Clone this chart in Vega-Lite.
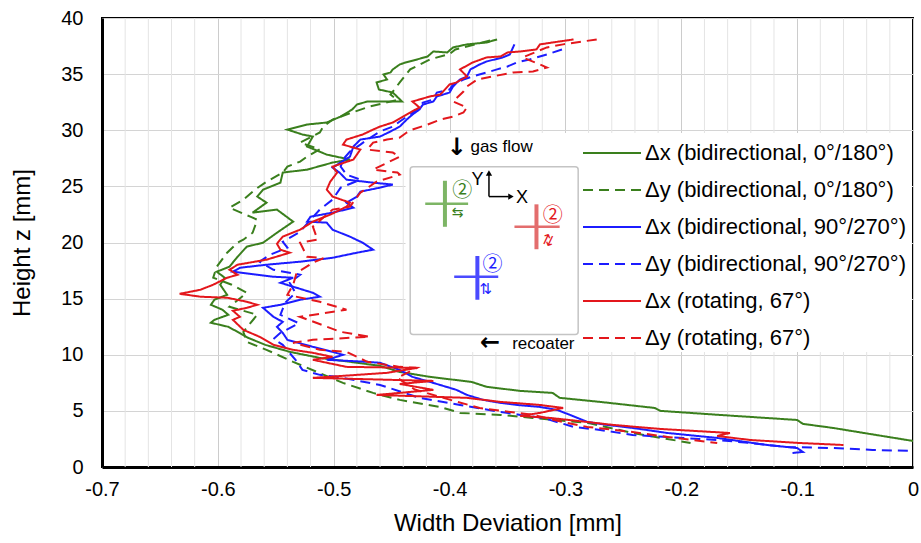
{
"$schema": "https://vega.github.io/schema/vega-lite/v6.json",
"width": 811, "height": 449,
"autosize": "none",
"padding": {"left": 102, "top": 18, "right": 8, "bottom": 76},
"config": {
  "font": "Liberation Sans",
  "view": {"stroke": "black", "strokeWidth": 2},
  "axis": {"labelColor": "black", "titleColor": "black", "titleFontWeight": "normal", "ticks": false, "tickSize": 0, "domainColor": "black", "domainWidth": 3, "labelFontSize": 20, "titleFontSize": 24, "labelFlush": false, "labelOverlap": false}
},
"datasets": {
"lines": [
{"s":"A","i":1,"z":38.09,"x":-0.359},{"s":"A","i":2,"z":37.82,"x":-0.368},{"s":"A","i":3,"z":37.65,"x":-0.385},{"s":"A","i":4,"z":37.38,"x":-0.397},{"s":"A","i":5,"z":36.93,"x":-0.402},{"s":"A","i":6,"z":37.02,"x":-0.414},{"s":"A","i":7,"z":36.57,"x":-0.419},{"s":"A","i":8,"z":36.31,"x":-0.428},{"s":"A","i":9,"z":36.04,"x":-0.438},{"s":"A","i":10,"z":35.86,"x":-0.443},{"s":"A","i":11,"z":35.42,"x":-0.449},{"s":"A","i":12,"z":35.15,"x":-0.451},{"s":"A","i":13,"z":34.97,"x":-0.457},{"s":"A","i":14,"z":34.52,"x":-0.454},{"s":"A","i":15,"z":34.26,"x":-0.463},{"s":"A","i":16,"z":33.63,"x":-0.461},{"s":"A","i":17,"z":33.36,"x":-0.449},{"s":"A","i":18,"z":32.56,"x":-0.441},{"s":"A","i":19,"z":32.56,"x":-0.471},{"s":"A","i":20,"z":32.29,"x":-0.48},{"s":"A","i":21,"z":31.85,"x":-0.484},{"s":"A","i":22,"z":31.22,"x":-0.494},{"s":"A","i":23,"z":30.69,"x":-0.506},{"s":"A","i":24,"z":30.51,"x":-0.523},{"s":"A","i":25,"z":30.06,"x":-0.54},{"s":"A","i":26,"z":29.62,"x":-0.527},{"s":"A","i":27,"z":29.44,"x":-0.518},{"s":"A","i":28,"z":28.55,"x":-0.523},{"s":"A","i":29,"z":27.83,"x":-0.506},{"s":"A","i":30,"z":27.39,"x":-0.486},{"s":"A","i":31,"z":27.12,"x":-0.501},{"s":"A","i":32,"z":26.49,"x":-0.523},{"s":"A","i":33,"z":26.23,"x":-0.544},{"s":"A","i":34,"z":25.33,"x":-0.546},{"s":"A","i":35,"z":24.71,"x":-0.561},{"s":"A","i":36,"z":24.09,"x":-0.566},{"s":"A","i":37,"z":23.55,"x":-0.558},{"s":"A","i":38,"z":22.66,"x":-0.57},{"s":"A","i":39,"z":22.93,"x":-0.549},{"s":"A","i":40,"z":21.86,"x":-0.535},{"s":"A","i":41,"z":20.87,"x":-0.549},{"s":"A","i":42,"z":19.98,"x":-0.561},{"s":"A","i":43,"z":19.63,"x":-0.575},{"s":"A","i":44,"z":18.73,"x":-0.583},{"s":"A","i":45,"z":17.84,"x":-0.59},{"s":"A","i":46,"z":17.4,"x":-0.601},{"s":"A","i":47,"z":16.86,"x":-0.594},{"s":"A","i":48,"z":16.24,"x":-0.598},{"s":"A","i":49,"z":15.34,"x":-0.592},{"s":"A","i":50,"z":14.9,"x":-0.603},{"s":"A","i":51,"z":14.45,"x":-0.606},{"s":"A","i":52,"z":14.01,"x":-0.596},{"s":"A","i":53,"z":13.56,"x":-0.591},{"s":"A","i":54,"z":13.11,"x":-0.603},{"s":"A","i":55,"z":12.85,"x":-0.606},{"s":"A","i":56,"z":12.49,"x":-0.591},{"s":"A","i":57,"z":12.04,"x":-0.583},{"s":"A","i":58,"z":11.51,"x":-0.574},{"s":"A","i":59,"z":10.88,"x":-0.559},{"s":"A","i":60,"z":10.26,"x":-0.538},{"s":"A","i":61,"z":9.72,"x":-0.512},{"s":"A","i":62,"z":9.37,"x":-0.486},{"s":"A","i":63,"z":9.01,"x":-0.46},{"s":"A","i":64,"z":8.47,"x":-0.443},{"s":"A","i":65,"z":8.03,"x":-0.417},{"s":"A","i":66,"z":7.58,"x":-0.381},{"s":"A","i":67,"z":7.14,"x":-0.368},{"s":"A","i":68,"z":6.78,"x":-0.339},{"s":"A","i":69,"z":6.6,"x":-0.311},{"s":"A","i":70,"z":6.16,"x":-0.305},{"s":"A","i":71,"z":5.8,"x":-0.27},{"s":"A","i":72,"z":5.26,"x":-0.223},{"s":"A","i":73,"z":5.0,"x":-0.218},{"s":"A","i":74,"z":4.64,"x":-0.167},{"s":"A","i":75,"z":4.19,"x":-0.1},{"s":"A","i":76,"z":3.84,"x":-0.095},{"s":"A","i":77,"z":3.48,"x":-0.069},{"s":"A","i":78,"z":2.94,"x":-0.037},{"s":"A","i":79,"z":2.32,"x":0},
{"s":"B","i":1,"z":38.0,"x":-0.365},{"s":"B","i":2,"z":37.2,"x":-0.395},{"s":"B","i":3,"z":36.8,"x":-0.4},{"s":"B","i":4,"z":36.31,"x":-0.417},{"s":"B","i":5,"z":35.42,"x":-0.434},{"s":"B","i":6,"z":34.26,"x":-0.443},{"s":"B","i":7,"z":33.18,"x":-0.451},{"s":"B","i":8,"z":32.7,"x":-0.445},{"s":"B","i":9,"z":32.11,"x":-0.469},{"s":"B","i":10,"z":31.4,"x":-0.489},{"s":"B","i":11,"z":30.95,"x":-0.501},{"s":"B","i":12,"z":30.33,"x":-0.509},{"s":"B","i":13,"z":29.8,"x":-0.512},{"s":"B","i":14,"z":28.9,"x":-0.529},{"s":"B","i":15,"z":28.3,"x":-0.512},{"s":"B","i":16,"z":27.65,"x":-0.523},{"s":"B","i":17,"z":27.21,"x":-0.529},{"s":"B","i":18,"z":26.76,"x":-0.54},{"s":"B","i":19,"z":26.23,"x":-0.544},{"s":"B","i":20,"z":25.42,"x":-0.558},{"s":"B","i":21,"z":24.71,"x":-0.568},{"s":"B","i":22,"z":23.82,"x":-0.578},{"s":"B","i":23,"z":23.1,"x":-0.59},{"s":"B","i":24,"z":22.3,"x":-0.572},{"s":"B","i":25,"z":22.03,"x":-0.566},{"s":"B","i":26,"z":20.87,"x":-0.57},{"s":"B","i":27,"z":20.25,"x":-0.578},{"s":"B","i":28,"z":19.98,"x":-0.583},{"s":"B","i":29,"z":19.09,"x":-0.592},{"s":"B","i":30,"z":17.84,"x":-0.601},{"s":"B","i":31,"z":16.86,"x":-0.604},{"s":"B","i":32,"z":16.24,"x":-0.588},{"s":"B","i":33,"z":15.52,"x":-0.575},{"s":"B","i":34,"z":14.27,"x":-0.59},{"s":"B","i":35,"z":13.56,"x":-0.566},{"s":"B","i":36,"z":12.04,"x":-0.578},{"s":"B","i":37,"z":11.15,"x":-0.575},{"s":"B","i":38,"z":10.44,"x":-0.558},{"s":"B","i":39,"z":9.37,"x":-0.535},{"s":"B","i":40,"z":7.49,"x":-0.492},{"s":"B","i":41,"z":6.6,"x":-0.466},{"s":"B","i":42,"z":5.98,"x":-0.443},{"s":"B","i":43,"z":5.35,"x":-0.408},{"s":"B","i":44,"z":4.82,"x":-0.391},{"s":"B","i":45,"z":4.64,"x":-0.356},{"s":"B","i":46,"z":4.37,"x":-0.328},{"s":"B","i":47,"z":3.93,"x":-0.281},{"s":"B","i":48,"z":3.03,"x":-0.242},{"s":"B","i":49,"z":2.14,"x":-0.192},
{"s":"C","i":1,"z":37.65,"x":-0.344},{"s":"C","i":2,"z":36.75,"x":-0.348},{"s":"C","i":3,"z":36.49,"x":-0.354},{"s":"C","i":4,"z":36.13,"x":-0.368},{"s":"C","i":5,"z":35.86,"x":-0.374},{"s":"C","i":6,"z":35.42,"x":-0.382},{"s":"C","i":7,"z":34.79,"x":-0.385},{"s":"C","i":8,"z":34.52,"x":-0.391},{"s":"C","i":9,"z":33.9,"x":-0.397},{"s":"C","i":10,"z":33.36,"x":-0.4},{"s":"C","i":11,"z":33.01,"x":-0.411},{"s":"C","i":12,"z":32.56,"x":-0.414},{"s":"C","i":13,"z":32.29,"x":-0.423},{"s":"C","i":14,"z":31.85,"x":-0.426},{"s":"C","i":15,"z":31.4,"x":-0.432},{"s":"C","i":16,"z":30.95,"x":-0.437},{"s":"C","i":17,"z":30.33,"x":-0.443},{"s":"C","i":18,"z":29.89,"x":-0.451},{"s":"C","i":19,"z":29.44,"x":-0.46},{"s":"C","i":20,"z":29.17,"x":-0.477},{"s":"C","i":21,"z":28.55,"x":-0.483},{"s":"C","i":22,"z":27.65,"x":-0.486},{"s":"C","i":23,"z":26.67,"x":-0.501},{"s":"C","i":24,"z":26.23,"x":-0.495},{"s":"C","i":25,"z":25.6,"x":-0.489},{"s":"C","i":26,"z":25.33,"x":-0.466},{"s":"C","i":27,"z":25.16,"x":-0.449},{"s":"C","i":28,"z":24.89,"x":-0.46},{"s":"C","i":29,"z":24.53,"x":-0.477},{"s":"C","i":30,"z":24.09,"x":-0.48},{"s":"C","i":31,"z":23.55,"x":-0.489},{"s":"C","i":32,"z":23.1,"x":-0.483},{"s":"C","i":33,"z":22.66,"x":-0.501},{"s":"C","i":34,"z":22.3,"x":-0.52},{"s":"C","i":35,"z":21.86,"x":-0.523},{"s":"C","i":36,"z":21.77,"x":-0.506},{"s":"C","i":37,"z":21.14,"x":-0.501},{"s":"C","i":38,"z":20.52,"x":-0.486},{"s":"C","i":39,"z":19.98,"x":-0.475},{"s":"C","i":40,"z":19.36,"x":-0.466},{"s":"C","i":41,"z":19.09,"x":-0.48},{"s":"C","i":42,"z":18.64,"x":-0.501},{"s":"C","i":43,"z":18.29,"x":-0.529},{"s":"C","i":44,"z":18.02,"x":-0.558},{"s":"C","i":45,"z":17.75,"x":-0.581},{"s":"C","i":46,"z":17.4,"x":-0.587},{"s":"C","i":47,"z":16.95,"x":-0.552},{"s":"C","i":48,"z":16.86,"x":-0.535},{"s":"C","i":49,"z":16.41,"x":-0.546},{"s":"C","i":50,"z":16.06,"x":-0.535},{"s":"C","i":51,"z":15.52,"x":-0.518},{"s":"C","i":52,"z":15.17,"x":-0.512},{"s":"C","i":53,"z":14.9,"x":-0.529},{"s":"C","i":54,"z":14.45,"x":-0.546},{"s":"C","i":55,"z":14.18,"x":-0.561},{"s":"C","i":56,"z":13.38,"x":-0.552},{"s":"C","i":57,"z":12.93,"x":-0.544},{"s":"C","i":58,"z":12.49,"x":-0.549},{"s":"C","i":59,"z":11.95,"x":-0.544},{"s":"C","i":60,"z":11.33,"x":-0.54},{"s":"C","i":61,"z":10.7,"x":-0.518},{"s":"C","i":62,"z":10.26,"x":-0.501},{"s":"C","i":63,"z":9.99,"x":-0.492},{"s":"C","i":64,"z":9.55,"x":-0.506},{"s":"C","i":65,"z":9.37,"x":-0.471},{"s":"C","i":66,"z":9.28,"x":-0.46},{"s":"C","i":67,"z":8.65,"x":-0.443},{"s":"C","i":68,"z":8.03,"x":-0.432},{"s":"C","i":69,"z":7.49,"x":-0.414},{"s":"C","i":70,"z":6.87,"x":-0.394},{"s":"C","i":71,"z":6.42,"x":-0.385},{"s":"C","i":72,"z":5.98,"x":-0.371},{"s":"C","i":73,"z":5.71,"x":-0.356},{"s":"C","i":74,"z":5.53,"x":-0.342},{"s":"C","i":75,"z":5.35,"x":-0.322},{"s":"C","i":76,"z":5.08,"x":-0.307},{"s":"C","i":77,"z":4.64,"x":-0.296},{"s":"C","i":78,"z":4.01,"x":-0.281},{"s":"C","i":79,"z":3.75,"x":-0.264},{"s":"C","i":80,"z":3.48,"x":-0.242},{"s":"C","i":81,"z":3.03,"x":-0.212},{"s":"C","i":82,"z":2.59,"x":-0.169},{"s":"C","i":83,"z":1.96,"x":-0.126},{"s":"C","i":84,"z":1.69,"x":-0.1},{"s":"C","i":85,"z":1.34,"x":-0.095},{"s":"C","i":86,"z":1.25,"x":-0.104},
{"s":"D","i":1,"z":37.2,"x":-0.303},{"s":"D","i":2,"z":36.75,"x":-0.316},{"s":"D","i":3,"z":36.31,"x":-0.331},{"s":"D","i":4,"z":36.04,"x":-0.342},{"s":"D","i":5,"z":35.68,"x":-0.35},{"s":"D","i":6,"z":35.42,"x":-0.359},{"s":"D","i":7,"z":34.79,"x":-0.38},{"s":"D","i":8,"z":34.52,"x":-0.388},{"s":"D","i":9,"z":34.08,"x":-0.397},{"s":"D","i":10,"z":33.63,"x":-0.4},{"s":"D","i":11,"z":33.36,"x":-0.411},{"s":"D","i":12,"z":32.74,"x":-0.414},{"s":"D","i":13,"z":32.47,"x":-0.423},{"s":"D","i":14,"z":31.85,"x":-0.428},{"s":"D","i":15,"z":31.4,"x":-0.434},{"s":"D","i":16,"z":30.78,"x":-0.443},{"s":"D","i":17,"z":30.33,"x":-0.449},{"s":"D","i":18,"z":29.89,"x":-0.46},{"s":"D","i":19,"z":29.17,"x":-0.471},{"s":"D","i":20,"z":28.72,"x":-0.477},{"s":"D","i":21,"z":28.1,"x":-0.486},{"s":"D","i":22,"z":27.39,"x":-0.492},{"s":"D","i":23,"z":26.76,"x":-0.494},{"s":"D","i":24,"z":26.05,"x":-0.489},{"s":"D","i":25,"z":25.6,"x":-0.477},{"s":"D","i":26,"z":24.89,"x":-0.494},{"s":"D","i":27,"z":23.82,"x":-0.501},{"s":"D","i":28,"z":22.93,"x":-0.512},{"s":"D","i":29,"z":22.03,"x":-0.52},{"s":"D","i":30,"z":20.96,"x":-0.529},{"s":"D","i":31,"z":20.07,"x":-0.544},{"s":"D","i":32,"z":19.54,"x":-0.54},{"s":"D","i":33,"z":18.91,"x":-0.555},{"s":"D","i":34,"z":18.29,"x":-0.564},{"s":"D","i":35,"z":17.57,"x":-0.552},{"s":"D","i":36,"z":17.13,"x":-0.529},{"s":"D","i":37,"z":16.41,"x":-0.538},{"s":"D","i":38,"z":15.52,"x":-0.533},{"s":"D","i":39,"z":14.63,"x":-0.542},{"s":"D","i":40,"z":13.56,"x":-0.546},{"s":"D","i":41,"z":12.8,"x":-0.53},{"s":"D","i":42,"z":11.95,"x":-0.546},{"s":"D","i":43,"z":11.4,"x":-0.552},{"s":"D","i":44,"z":10.88,"x":-0.544},{"s":"D","i":45,"z":9.55,"x":-0.533},{"s":"D","i":46,"z":8.65,"x":-0.527},{"s":"D","i":47,"z":8.21,"x":-0.512},{"s":"D","i":48,"z":8.03,"x":-0.497},{"s":"D","i":49,"z":7.31,"x":-0.46},{"s":"D","i":50,"z":6.16,"x":-0.426},{"s":"D","i":51,"z":5.53,"x":-0.391},{"s":"D","i":52,"z":4.91,"x":-0.356},{"s":"D","i":53,"z":4.64,"x":-0.339},{"s":"D","i":54,"z":4.37,"x":-0.319},{"s":"D","i":55,"z":3.57,"x":-0.293},{"s":"D","i":56,"z":3.3,"x":-0.27},{"s":"D","i":57,"z":2.85,"x":-0.242},{"s":"D","i":58,"z":2.41,"x":-0.169},{"s":"D","i":59,"z":2.14,"x":-0.141},{"s":"D","i":60,"z":1.78,"x":-0.109},{"s":"D","i":61,"z":1.69,"x":-0.069},{"s":"D","i":62,"z":1.52,"x":-0.035},{"s":"D","i":63,"z":1.43,"x":0},
{"s":"E","i":1,"z":38.09,"x":-0.293},{"s":"E","i":2,"z":37.82,"x":-0.311},{"s":"E","i":3,"z":37.65,"x":-0.322},{"s":"E","i":4,"z":37.2,"x":-0.325},{"s":"E","i":5,"z":37.02,"x":-0.339},{"s":"E","i":6,"z":36.93,"x":-0.35},{"s":"E","i":7,"z":36.57,"x":-0.356},{"s":"E","i":8,"z":36.49,"x":-0.368},{"s":"E","i":9,"z":36.04,"x":-0.38},{"s":"E","i":10,"z":35.42,"x":-0.391},{"s":"E","i":11,"z":34.79,"x":-0.385},{"s":"E","i":12,"z":34.26,"x":-0.394},{"s":"E","i":13,"z":34.08,"x":-0.4},{"s":"E","i":14,"z":33.18,"x":-0.408},{"s":"E","i":15,"z":33.01,"x":-0.417},{"s":"E","i":16,"z":32.56,"x":-0.432},{"s":"E","i":17,"z":32.03,"x":-0.426},{"s":"E","i":18,"z":31.58,"x":-0.434},{"s":"E","i":19,"z":30.69,"x":-0.449},{"s":"E","i":20,"z":30.33,"x":-0.46},{"s":"E","i":21,"z":30.06,"x":-0.466},{"s":"E","i":22,"z":29.62,"x":-0.475},{"s":"E","i":23,"z":29.17,"x":-0.489},{"s":"E","i":24,"z":28.72,"x":-0.492},{"s":"E","i":25,"z":28.28,"x":-0.477},{"s":"E","i":26,"z":27.39,"x":-0.483},{"s":"E","i":27,"z":26.76,"x":-0.501},{"s":"E","i":28,"z":26.23,"x":-0.497},{"s":"E","i":29,"z":25.42,"x":-0.503},{"s":"E","i":30,"z":24.71,"x":-0.506},{"s":"E","i":31,"z":24.09,"x":-0.501},{"s":"E","i":32,"z":23.55,"x":-0.486},{"s":"E","i":33,"z":23.19,"x":-0.489},{"s":"E","i":34,"z":22.48,"x":-0.503},{"s":"E","i":35,"z":21.86,"x":-0.518},{"s":"E","i":36,"z":21.14,"x":-0.529},{"s":"E","i":37,"z":20.52,"x":-0.544},{"s":"E","i":38,"z":19.89,"x":-0.549},{"s":"E","i":39,"z":19.36,"x":-0.546},{"s":"E","i":40,"z":19.09,"x":-0.538},{"s":"E","i":41,"z":18.47,"x":-0.558},{"s":"E","i":42,"z":18.02,"x":-0.583},{"s":"E","i":43,"z":17.57,"x":-0.59},{"s":"E","i":44,"z":17.13,"x":-0.583},{"s":"E","i":45,"z":16.86,"x":-0.592},{"s":"E","i":46,"z":16.24,"x":-0.604},{"s":"E","i":47,"z":15.79,"x":-0.615},{"s":"E","i":48,"z":15.43,"x":-0.633},{"s":"E","i":49,"z":15.17,"x":-0.615},{"s":"E","i":50,"z":15.08,"x":-0.592},{"s":"E","i":51,"z":14.72,"x":-0.575},{"s":"E","i":52,"z":14.45,"x":-0.566},{"s":"E","i":53,"z":14.18,"x":-0.575},{"s":"E","i":54,"z":13.92,"x":-0.587},{"s":"E","i":55,"z":13.38,"x":-0.581},{"s":"E","i":56,"z":13.11,"x":-0.587},{"s":"E","i":57,"z":12.22,"x":-0.578},{"s":"E","i":58,"z":11.6,"x":-0.564},{"s":"E","i":59,"z":10.88,"x":-0.552},{"s":"E","i":60,"z":10.44,"x":-0.535},{"s":"E","i":61,"z":10.17,"x":-0.518},{"s":"E","i":62,"z":9.81,"x":-0.501},{"s":"E","i":63,"z":9.55,"x":-0.518},{"s":"E","i":64,"z":8.92,"x":-0.489},{"s":"E","i":65,"z":8.83,"x":-0.428},{"s":"E","i":66,"z":8.39,"x":-0.454},{"s":"E","i":67,"z":7.94,"x":-0.518},{"s":"E","i":68,"z":7.67,"x":-0.414},{"s":"E","i":69,"z":7.4,"x":-0.443},{"s":"E","i":70,"z":6.87,"x":-0.414},{"s":"E","i":71,"z":6.42,"x":-0.463},{"s":"E","i":72,"z":6.16,"x":-0.385},{"s":"E","i":73,"z":5.8,"x":-0.356},{"s":"E","i":74,"z":5.53,"x":-0.322},{"s":"E","i":75,"z":5.26,"x":-0.302},{"s":"E","i":76,"z":4.82,"x":-0.322},{"s":"E","i":77,"z":4.55,"x":-0.339},{"s":"E","i":78,"z":4.37,"x":-0.313},{"s":"E","i":79,"z":4.01,"x":-0.281},{"s":"E","i":80,"z":3.75,"x":-0.259},{"s":"E","i":81,"z":3.39,"x":-0.218},{"s":"E","i":82,"z":3.03,"x":-0.158},{"s":"E","i":83,"z":2.77,"x":-0.169},{"s":"E","i":84,"z":2.41,"x":-0.141},{"s":"E","i":85,"z":2.14,"x":-0.098},{"s":"E","i":86,"z":1.96,"x":-0.06},
{"s":"F","i":1,"z":38.09,"x":-0.273},{"s":"F","i":2,"z":37.91,"x":-0.285},{"s":"F","i":3,"z":37.65,"x":-0.302},{"s":"F","i":4,"z":37.38,"x":-0.316},{"s":"F","i":5,"z":36.49,"x":-0.337},{"s":"F","i":6,"z":35.86,"x":-0.322},{"s":"F","i":7,"z":35.59,"x":-0.316},{"s":"F","i":8,"z":35.24,"x":-0.328},{"s":"F","i":9,"z":35.15,"x":-0.345},{"s":"F","i":10,"z":34.79,"x":-0.363},{"s":"F","i":11,"z":34.52,"x":-0.376},{"s":"F","i":12,"z":33.9,"x":-0.385},{"s":"F","i":13,"z":33.45,"x":-0.388},{"s":"F","i":14,"z":32.56,"x":-0.397},{"s":"F","i":15,"z":32.03,"x":-0.385},{"s":"F","i":16,"z":31.58,"x":-0.388},{"s":"F","i":17,"z":31.22,"x":-0.397},{"s":"F","i":18,"z":30.95,"x":-0.408},{"s":"F","i":19,"z":30.51,"x":-0.419},{"s":"F","i":20,"z":30.06,"x":-0.432},{"s":"F","i":21,"z":29.8,"x":-0.437},{"s":"F","i":22,"z":29.35,"x":-0.443},{"s":"F","i":23,"z":29.17,"x":-0.454},{"s":"F","i":24,"z":28.9,"x":-0.466},{"s":"F","i":25,"z":28.28,"x":-0.471},{"s":"F","i":26,"z":28.01,"x":-0.449},{"s":"F","i":27,"z":27.65,"x":-0.443},{"s":"F","i":28,"z":26.49,"x":-0.466},{"s":"F","i":29,"z":26.23,"x":-0.445},{"s":"F","i":30,"z":26.05,"x":-0.443},{"s":"F","i":31,"z":25.42,"x":-0.463},{"s":"F","i":32,"z":24.44,"x":-0.477},{"s":"F","i":33,"z":23.19,"x":-0.486},{"s":"F","i":34,"z":22.93,"x":-0.501},{"s":"F","i":35,"z":21.41,"x":-0.518},{"s":"F","i":36,"z":20.25,"x":-0.514},{"s":"F","i":37,"z":19.98,"x":-0.529},{"s":"F","i":38,"z":18.73,"x":-0.523},{"s":"F","i":39,"z":18.6,"x":-0.509},{"s":"F","i":40,"z":18.2,"x":-0.518},{"s":"F","i":41,"z":17.31,"x":-0.532},{"s":"F","i":42,"z":16.24,"x":-0.535},{"s":"F","i":43,"z":15.34,"x":-0.54},{"s":"F","i":44,"z":14.72,"x":-0.512},{"s":"F","i":45,"z":14.01,"x":-0.489},{"s":"F","i":46,"z":13.38,"x":-0.529},{"s":"F","i":47,"z":12.04,"x":-0.494},{"s":"F","i":48,"z":11.6,"x":-0.469},{"s":"F","i":49,"z":11.33,"x":-0.518},{"s":"F","i":50,"z":11.06,"x":-0.535},{"s":"F","i":51,"z":10.44,"x":-0.512},{"s":"F","i":52,"z":10.26,"x":-0.489},{"s":"F","i":53,"z":9.37,"x":-0.471},{"s":"F","i":54,"z":8.92,"x":-0.443},{"s":"F","i":55,"z":8.83,"x":-0.428},{"s":"F","i":56,"z":7.94,"x":-0.445},{"s":"F","i":57,"z":6.9,"x":-0.43},{"s":"F","i":58,"z":6.0,"x":-0.4},{"s":"F","i":59,"z":5.26,"x":-0.374},{"s":"F","i":60,"z":4.64,"x":-0.328},{"s":"F","i":61,"z":4.01,"x":-0.302},{"s":"F","i":62,"z":3.57,"x":-0.281},{"s":"F","i":63,"z":3.12,"x":-0.242},{"s":"F","i":64,"z":2.68,"x":-0.212},{"s":"F","i":65,"z":2.14,"x":-0.169}
]
},
"layer": [
{
  "data": {"values": [{"x":-0.68},{"x":-0.66},{"x":-0.64},{"x":-0.62},{"x":-0.58},{"x":-0.56},{"x":-0.54},{"x":-0.52},{"x":-0.48},{"x":-0.46},{"x":-0.44},{"x":-0.42},{"x":-0.38},{"x":-0.36},{"x":-0.34},{"x":-0.32},{"x":-0.28},{"x":-0.26},{"x":-0.24},{"x":-0.22},{"x":-0.18},{"x":-0.16},{"x":-0.14},{"x":-0.12},{"x":-0.08},{"x":-0.06},{"x":-0.04},{"x":-0.02}]},
  "mark": {"type": "rule", "color": "#e4e4e4", "strokeWidth": 1},
  "encoding": {
    "x": {"field": "x", "type": "quantitative", "scale": {"domain": [-0.7, 0], "nice": false, "zero": false},
      "axis": {"title": "Width Deviation [mm]", "grid": true, "gridColor": "#cccccc", "labelOverlap": false, "labelFlush": false,
        "values": [-0.7,-0.6,-0.5,-0.4,-0.3,-0.2,-0.1,0],
        "labelExpr": "datum.value == 0 ? '0' : '-' + format(abs(datum.value), '.1f')",
        "labelPadding": 12, "titlePadding": 12}}
  }
},
{
  "data": {"values": [{"x": -0.438, "x2": -0.001, "z": 10.25, "z2": 29.75}]},
  "mark": {"type": "rect", "fill": "white", "strokeWidth": 0},
  "encoding": {
    "x": {"field": "x", "type": "quantitative"},
    "x2": {"field": "x2"},
    "y": {"field": "z", "type": "quantitative", "scale": {"domain": [0, 40], "nice": false, "zero": false},
      "axis": {"title": "Height z [mm]", "grid": true, "gridColor": "#d4d4d4", "labelOverlap": false, "labelFlush": false, "values": [0,5,10,15,20,25,30,35,40], "labelPadding": 19, "titlePadding": 26}},
    "y2": {"field": "z2"}
  }
},
{
  "data": {"name": "lines"},
  "mark": {"type": "line", "strokeWidth": 2},
  "encoding": {
    "x": {"field": "x", "type": "quantitative"},
    "y": {"field": "z", "type": "quantitative"},
    "order": {"field": "i", "type": "quantitative"},
    "color": {"field": "s", "type": "nominal",
      "scale": {"domain": ["A","B","C","D","E","F"], "range": ["#3a7f1d","#3a7f1d","#1c1cff","#1c1cff","#e3171c","#e3171c"]},
      "legend": {"title": null, "orient": "none", "legendX": 480, "legendY": 117, "symbolType": "stroke", "symbolSize": 3364, "symbolStrokeWidth": 2, "labelFontSize": 22, "labelColor": "black", "labelOffset": 3, "labelLimit": 400, "clipHeight": 36.2, "rowPadding": 0, "padding": 0,
        "labelExpr": "datum.label=='A' ? 'Δx (bidirectional, 0°/180°)' : datum.label=='B' ? 'Δy (bidirectional, 0°/180°)' : datum.label=='C' ? 'Δx (bidirectional, 90°/270°)' : datum.label=='D' ? 'Δy (bidirectional, 90°/270°)' : datum.label=='E' ? 'Δx (rotating, 67°)' : 'Δy (rotating, 67°)'"}},
    "strokeDash": {"field": "s", "type": "nominal",
      "scale": {"domain": ["A","B","C","D","E","F"], "range": [[1,0],[10,6],[1,0],[10,6],[1,0],[10,6]]},
      "legend": {"title": null, "orient": "none", "legendX": 480, "legendY": 117, "symbolType": "stroke", "symbolSize": 3364, "symbolStrokeWidth": 2, "labelFontSize": 22, "labelColor": "black", "labelOffset": 3, "labelLimit": 400, "clipHeight": 36.2, "rowPadding": 0, "padding": 0,
        "labelExpr": "datum.label=='A' ? 'Δx (bidirectional, 0°/180°)' : datum.label=='B' ? 'Δy (bidirectional, 0°/180°)' : datum.label=='C' ? 'Δx (bidirectional, 90°/270°)' : datum.label=='D' ? 'Δy (bidirectional, 90°/270°)' : datum.label=='E' ? 'Δx (rotating, 67°)' : 'Δy (rotating, 67°)'"}}
  }
},
{
  "data": {"values": [{"x": -0.434, "x2": -0.289, "z": 11.8, "z2": 26.75}]},
  "mark": {"type": "rect", "fill": "white", "stroke": "#c4c4c4", "strokeWidth": 1.5, "cornerRadius": 3},
  "encoding": {"x": {"field": "x", "type": "quantitative"}, "x2": {"field": "x2"}, "y": {"field": "z", "type": "quantitative"}, "y2": {"field": "z2"}}
},
{
  "data": {"values": [{"x": -0.404, "x2": -0.404, "z": 21.4, "z2": 25.5}]},
  "mark": {"type": "rule", "color": "#7db565", "strokeWidth": 4},
  "encoding": {"x": {"field": "x", "type": "quantitative"}, "x2": {"field": "x2"}, "y": {"field": "z", "type": "quantitative"}, "y2": {"field": "z2"}}
},
{
  "data": {"values": [{"x": -0.421, "x2": -0.384, "z": 23.46, "z2": 23.46}]},
  "mark": {"type": "rule", "color": "#7db565", "strokeWidth": 2.5},
  "encoding": {"x": {"field": "x", "type": "quantitative"}, "x2": {"field": "x2"}, "y": {"field": "z", "type": "quantitative"}, "y2": {"field": "z2"}}
},
{
  "data": {"values": [{"x": -0.325, "x2": -0.325, "z": 19.4, "z2": 23.4}]},
  "mark": {"type": "rule", "color": "#e36d6d", "strokeWidth": 4},
  "encoding": {"x": {"field": "x", "type": "quantitative"}, "x2": {"field": "x2"}, "y": {"field": "z", "type": "quantitative"}, "y2": {"field": "z2"}}
},
{
  "data": {"values": [{"x": -0.344, "x2": -0.305, "z": 21.41, "z2": 21.41}]},
  "mark": {"type": "rule", "color": "#e36d6d", "strokeWidth": 2.5},
  "encoding": {"x": {"field": "x", "type": "quantitative"}, "x2": {"field": "x2"}, "y": {"field": "z", "type": "quantitative"}, "y2": {"field": "z2"}}
},
{
  "data": {"values": [{"x": -0.376, "x2": -0.376, "z": 14.9, "z2": 18.8}]},
  "mark": {"type": "rule", "color": "#4a4aff", "strokeWidth": 4},
  "encoding": {"x": {"field": "x", "type": "quantitative"}, "x2": {"field": "x2"}, "y": {"field": "z", "type": "quantitative"}, "y2": {"field": "z2"}}
},
{
  "data": {"values": [{"x": -0.396, "x2": -0.358, "z": 16.95, "z2": 16.95}]},
  "mark": {"type": "rule", "color": "#4a4aff", "strokeWidth": 2.5},
  "encoding": {"x": {"field": "x", "type": "quantitative"}, "x2": {"field": "x2"}, "y": {"field": "z", "type": "quantitative"}, "y2": {"field": "z2"}}
},
{
  "data": {"values": [{"x": -0.366, "x2": -0.366, "z": 24.09, "z2": 26.1}, {"x": -0.366, "x2": -0.349, "z": 24.09, "z2": 24.09}]},
  "mark": {"type": "rule", "color": "black", "strokeWidth": 1.5},
  "encoding": {"x": {"field": "x", "type": "quantitative"}, "x2": {"field": "x2"}, "y": {"field": "z", "type": "quantitative"}, "y2": {"field": "z2"}}
},
{
  "data": {"values": [{"x": -0.366, "z": 26.2}]},
  "mark": {"type": "point", "shape": "triangle-up", "filled": true, "color": "black", "size": 40, "opacity": 1},
  "encoding": {"x": {"field": "x", "type": "quantitative"}, "y": {"field": "z", "type": "quantitative"}}
},
{
  "data": {"values": [{"x": -0.347, "z": 24.09}]},
  "mark": {"type": "point", "shape": "triangle-right", "filled": true, "color": "black", "size": 40, "opacity": 1},
  "encoding": {"x": {"field": "x", "type": "quantitative"}, "y": {"field": "z", "type": "quantitative"}}
},
{
  "data": {"values": [{"x": -0.382, "z": 28.5, "t": "gas flow"}, {"x": -0.346, "z": 11.0, "t": "recoater"}]},
  "mark": {"type": "text", "align": "left", "baseline": "middle", "fontSize": 17, "color": "black"},
  "encoding": {"x": {"field": "x", "type": "quantitative"}, "y": {"field": "z", "type": "quantitative"}, "text": {"field": "t"}}
},
{
  "data": {"values": [{"x": -0.376, "z": 25.6, "t": "Y"}, {"x": -0.3375, "z": 24.0, "t": "X"}]},
  "mark": {"type": "text", "align": "center", "baseline": "middle", "fontSize": 18, "color": "black"},
  "encoding": {"x": {"field": "x", "type": "quantitative"}, "y": {"field": "z", "type": "quantitative"}, "text": {"field": "t"}}
},
{
  "data": {"values": [{"x": -0.394, "z": 28.4, "t": "↓"}, {"x": -0.365, "z": 11.06, "t": "←"}]},
  "mark": {"type": "text", "align": "center", "baseline": "middle", "fontSize": 24, "fontWeight": "bold", "color": "black", "font": "DejaVu Sans"},
  "encoding": {"x": {"field": "x", "type": "quantitative"}, "y": {"field": "z", "type": "quantitative"}, "text": {"field": "t"}}
},
{
  "data": {"values": [{"x": -0.389, "z": 24.6, "t": "②"}]},
  "mark": {"type": "text", "align": "center", "baseline": "middle", "fontSize": 20, "color": "#3a7f1d", "font": "Noto Sans CJK JP"},
  "encoding": {"x": {"field": "x", "type": "quantitative"}, "y": {"field": "z", "type": "quantitative"}, "text": {"field": "t"}}
},
{
  "data": {"values": [{"x": -0.311, "z": 22.4, "t": "②"}]},
  "mark": {"type": "text", "align": "center", "baseline": "middle", "fontSize": 20, "color": "#e3171c", "font": "Noto Sans CJK JP"},
  "encoding": {"x": {"field": "x", "type": "quantitative"}, "y": {"field": "z", "type": "quantitative"}, "text": {"field": "t"}}
},
{
  "data": {"values": [{"x": -0.363, "z": 18.0, "t": "②"}]},
  "mark": {"type": "text", "align": "center", "baseline": "middle", "fontSize": 20, "color": "#1c1cff", "font": "Noto Sans CJK JP"},
  "encoding": {"x": {"field": "x", "type": "quantitative"}, "y": {"field": "z", "type": "quantitative"}, "text": {"field": "t"}}
},
{
  "data": {"values": [{"x": -0.393, "z": 22.6, "t": "⇆"}]},
  "mark": {"type": "text", "align": "center", "baseline": "middle", "fontSize": 14, "color": "#3a7f1d", "font": "DejaVu Sans"},
  "encoding": {"x": {"field": "x", "type": "quantitative"}, "y": {"field": "z", "type": "quantitative"}, "text": {"field": "t"}}
},
{
  "data": {"values": [{"x": -0.315, "z": 20.2, "t": "⇅"}]},
  "mark": {"type": "text", "align": "center", "baseline": "middle", "fontSize": 15, "angle": 25, "color": "#e3171c", "font": "DejaVu Sans"},
  "encoding": {"x": {"field": "x", "type": "quantitative"}, "y": {"field": "z", "type": "quantitative"}, "text": {"field": "t"}}
},
{
  "data": {"values": [{"x": -0.369, "z": 15.85, "t": "⇅"}]},
  "mark": {"type": "text", "align": "center", "baseline": "middle", "fontSize": 15, "color": "#1c1cff", "font": "DejaVu Sans"},
  "encoding": {"x": {"field": "x", "type": "quantitative"}, "y": {"field": "z", "type": "quantitative"}, "text": {"field": "t"}}
}
]
}
